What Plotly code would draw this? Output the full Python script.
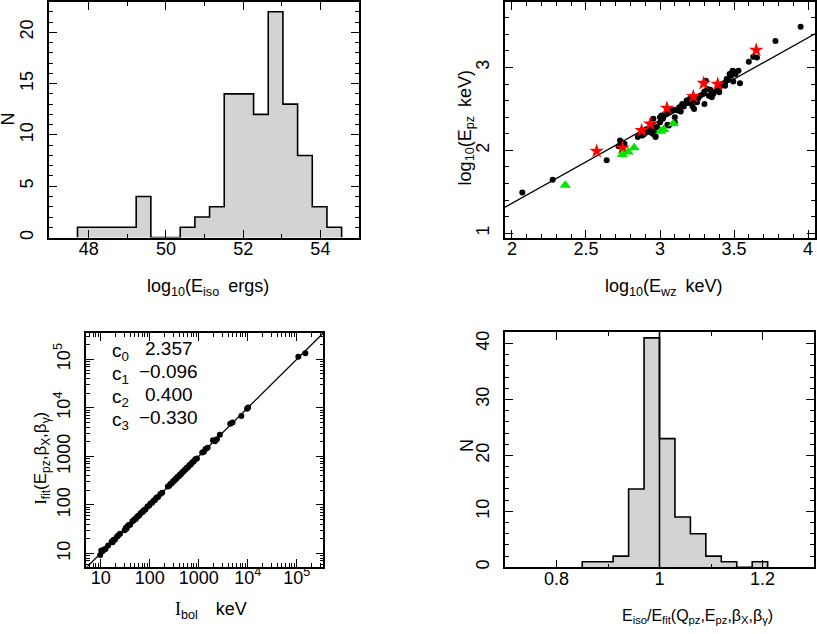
import plotly.graph_objects as go

# ---------------- data ----------------
# Panel A: histogram of log10(E_iso)
eiso_bin_edges = [47.71, 48.09, 48.47, 48.85, 49.23, 49.61, 49.99, 50.37, 50.75, 51.13,
                  51.51, 51.89, 52.27, 52.65, 53.03, 53.41, 53.79, 54.17, 54.55]
eiso_counts = [1, 1, 1, 1, 4, 0, 0, 1, 2, 3, 14, 14, 12, 22, 13, 8, 3, 1]

# Panel B: log10(E_pz) vs log10(E_wz)
ewz_black = [2.07, 2.275, 2.64, 2.72, 2.73, 2.74, 2.75, 2.76, 2.745,
             2.85, 2.87, 2.89, 2.90, 2.905, 2.91, 2.93, 2.95, 2.96, 2.97, 2.955, 2.95, 2.98, 3.00, 2.97,
             3.00, 3.01, 3.02, 3.03, 3.05, 3.06, 3.08, 3.10, 3.10, 3.10, 3.06,
             3.12, 3.13, 3.14, 3.15, 3.16, 3.19, 3.20, 3.21, 3.22, 3.23,
             3.24, 3.25, 3.27, 3.29, 3.30, 3.31, 3.30, 3.32, 3.33, 3.34,
             3.35, 3.355, 3.38, 3.40, 3.40, 3.41, 3.42, 3.44, 3.45, 3.46,
             3.47, 3.48, 3.49, 3.495, 3.50, 3.51, 3.53, 3.54, 3.60, 3.63,
             3.655, 3.78, 3.95,
             2.88, 2.92, 3.04, 3.18, 3.26, 3.36, 3.44]
epz_black = [1.49, 1.645, 1.88, 2.05, 2.12, 2.10, 2.06, 2.08, 2.04,
             2.16, 2.20, 2.19, 2.21, 2.25, 2.23, 2.22, 2.20, 2.22, 2.17, 2.38, 2.28, 2.28, 2.34, 2.16,
             2.40, 2.42, 2.38, 2.43, 2.31, 2.46, 2.48, 2.49, 2.40, 2.34, 2.30,
             2.48, 2.52, 2.47, 2.56, 2.53, 2.57, 2.62, 2.58, 2.53, 2.50,
             2.61, 2.58, 2.66, 2.68, 2.56, 2.84, 2.71, 2.74, 2.66, 2.73,
             2.64, 2.70, 2.72, 2.74, 2.70, 2.78, 2.80, 2.82, 2.86, 2.85,
             2.92, 2.90, 2.96, 2.83, 2.95, 2.92, 2.96, 2.81, 3.07, 3.13,
             3.12, 3.32, 3.49,
             2.18, 2.26, 2.44, 2.60, 2.63, 2.68, 2.78]
ewz_red = [2.572, 2.748, 2.876, 2.934, 3.047, 3.225, 3.295, 3.39, 3.65]
epz_red = [1.99, 2.03, 2.24, 2.32, 2.51, 2.65, 2.81, 2.80, 3.21]
ewz_green = [2.36, 2.746, 2.785, 2.825, 3.005, 3.025, 3.09]
epz_green = [1.58, 1.95, 1.98, 2.03, 2.23, 2.25, 2.32]
fit_slope = 1.0
fit_intercept = -0.64
ewz_tickvals = [2, 2.5, 3, 3.5, 4]
ewz_ticktext = ["2", "2.5", "3", "3.5", "4"]

# Panel C: I_fit vs I_bol
ibol = [9.8, 10.3, 11.0, 11.8, 12.5, 14.2, 16.8, 17.5, 18.4, 19.6,
        21.5, 23.0, 24.8, 31.0, 32.5, 33.8, 35.2, 37.5, 40.0, 44.5,
        47, 49.5, 52, 55, 58, 61, 65, 69, 73, 77,
        82, 90, 98, 104, 112, 120, 128, 137, 148, 165,
        180, 235, 250, 265, 282, 300, 318, 335, 352, 372,
        395, 415, 438, 462, 490, 515, 545, 575, 610, 650,
        690, 735, 790, 850, 920, 1180, 1280, 1380, 1520, 1950,
        2150, 2350, 2700, 4400, 4900, 7400, 9700, 10200, 108000, 150000]
ifit = [9.2, 11.5, 11.2, 12.0, 12.3, 14.6, 17.5, 17.0, 19.0, 19.2,
        22, 23.5, 25.5, 30, 33.5, 32.5, 36, 38.5, 39, 46,
        48, 50.5, 51, 56, 59, 60, 66, 70, 72, 78,
        80, 92, 97, 106, 110, 122, 126, 140, 146, 168,
        178, 238, 247, 270, 280, 305, 315, 340, 350, 378,
        390, 420, 432, 470, 485, 520, 540, 585, 600, 660,
        680, 745, 780, 870, 900, 1200, 1250, 1420, 1500, 2150,
        2050, 2250, 2800, 4700, 5000, 6800, 9600, 10100, 113000, 133000]
coef_names = ["c<sub>0</sub>", "c<sub>1</sub>", "c<sub>2</sub>", "c<sub>3</sub>"]
coef_values = [2.357, -0.096, 0.400, -0.330]
log_tickvals = [10, 100, 1000, 1e4, 1e5]
log_ticktext = ["10", "100", "1000", "10<sup>4</sup>", "10<sup>5</sup>"]

# Panel D: histogram of E_iso / E_fit
ratio_bin_edges = [0.85, 0.88, 0.91, 0.94, 0.97, 1.00, 1.03, 1.06, 1.09, 1.12, 1.15, 1.18, 1.21]
ratio_counts = [1, 1, 2, 14, 41, 23, 9, 6, 2, 1, 0, 1]
ratio_reference = 1.0

# ---------------- layout helpers ----------------
W, H = 817, 634
FONT = "Liberation Sans"
GRAY = "#d3d3d3"
TICK_SIZE = 18
SP = "\u2002"


def xdom(a, b):
    return [a / W, b / W]


def ydom(top, bottom):
    return [1 - bottom / H, 1 - top / H]


def axis(is_y=False, **kw):
    d = dict(showline=True, linecolor="black", linewidth=1.6, mirror="ticks",
             ticks="inside", ticklen=8, tickwidth=1.2, tickcolor="black",
             showgrid=False, zeroline=False, ticklabeloverflow="allow",
             ticklabelstandoff=(7 if is_y else -6),
             tickfont=dict(family=FONT, size=TICK_SIZE, color="black"))
    if is_y:
        d["tickangle"] = -90
    d.update(kw)
    return d


def minor(dtick=None, tickvals=None):
    m = dict(ticks="inside", ticklen=4, tickwidth=1.0, tickcolor="black", showgrid=False)
    if dtick is not None:
        m["dtick"] = dtick
    if tickvals is not None:
        m["tickvals"] = tickvals
    return m


def step_outline(edges, counts):
    xs = [edges[0]] + list(edges)
    ys = [0] + list(counts) + [0]
    return xs, ys


fig = go.Figure()

# Panel A
cent = [(eiso_bin_edges[i] + eiso_bin_edges[i + 1]) / 2 for i in range(len(eiso_counts))]
wid = [eiso_bin_edges[i + 1] - eiso_bin_edges[i] for i in range(len(eiso_counts))]
fig.add_trace(go.Bar(x=cent, y=eiso_counts, width=wid, marker=dict(color=GRAY, line=dict(width=0)),
                     xaxis="x", yaxis="y", showlegend=False))
sx, sy = step_outline(eiso_bin_edges, eiso_counts)
fig.add_trace(go.Scatter(x=sx, y=sy, mode="lines", line=dict(color="black", width=1.6, shape="hv"),
                         xaxis="x", yaxis="y", showlegend=False))

# Panel B
xr_b = [1.953, 4.047]
fig.add_trace(go.Scatter(x=xr_b, y=[fit_slope * v + fit_intercept for v in xr_b], mode="lines",
                         line=dict(color="black", width=1.3), xaxis="x2", yaxis="y2", showlegend=False))
fig.add_trace(go.Scatter(x=ewz_black, y=epz_black, mode="markers",
                         marker=dict(color="black", size=6), xaxis="x2", yaxis="y2", showlegend=False))
fig.add_trace(go.Scatter(x=ewz_red, y=epz_red, mode="markers",
                         marker=dict(color="red", size=11, symbol="star", line=dict(width=0)),
                         xaxis="x2", yaxis="y2", showlegend=False))
fig.add_trace(go.Scatter(x=ewz_green, y=epz_green, mode="markers",
                         marker=dict(color="#00e600", size=10, symbol="triangle-up", line=dict(width=0)),
                         xaxis="x2", yaxis="y2", showlegend=False))

# Panel C
lr_c = [0.694, 5.543]
lr_c_y = [0.727, 5.548]
diag = [10 ** lr_c[0], 10 ** lr_c[1]]
fig.add_trace(go.Scatter(x=diag, y=diag, mode="lines", line=dict(color="black", width=1.3),
                         xaxis="x3", yaxis="y3", showlegend=False))
fig.add_trace(go.Scatter(x=ibol, y=ifit, mode="markers", marker=dict(color="black", size=6),
                         xaxis="x3", yaxis="y3", showlegend=False))

# Panel D
cent4 = [(ratio_bin_edges[i] + ratio_bin_edges[i + 1]) / 2 for i in range(len(ratio_counts))]
wid4 = [ratio_bin_edges[i + 1] - ratio_bin_edges[i] for i in range(len(ratio_counts))]
fig.add_trace(go.Bar(x=cent4, y=ratio_counts, width=wid4, marker=dict(color=GRAY, line=dict(width=0)),
                     xaxis="x4", yaxis="y4", showlegend=False))
sx4, sy4 = step_outline(ratio_bin_edges, ratio_counts)
fig.add_trace(go.Scatter(x=sx4, y=sy4, mode="lines", line=dict(color="black", width=1.6, shape="hv"),
                         xaxis="x4", yaxis="y4", showlegend=False))
yr_d = [0, 42.1]
fig.add_trace(go.Scatter(x=[ratio_reference, ratio_reference], y=yr_d, mode="lines",
                         line=dict(color="black", width=1.6), xaxis="x4", yaxis="y4", showlegend=False))

log_minor = [m * 10 ** k for k in range(0, 6) for m in range(2, 10)]

fig.update_layout(
    width=W, height=H, margin=dict(l=0, r=0, t=0, b=0),
    paper_bgcolor="white", plot_bgcolor="white", bargap=0,
    font=dict(family=FONT, size=17, color="black"),
    xaxis=axis(domain=xdom(49.3, 359), range=[46.98, 55.0], dtick=2, tick0=0,
               minor=minor(dtick=1), anchor="y"),
    yaxis=axis(True, domain=ydom(1, 237.7), range=[0, 22.95], dtick=5, tick0=0,
               minor=minor(dtick=1), anchor="x"),
    xaxis2=axis(domain=xdom(505, 815), range=xr_b, tickmode="array", tickvals=ewz_tickvals,
                ticktext=ewz_ticktext, minor=minor(dtick=0.1), anchor="y2"),
    yaxis2=axis(True, domain=ydom(1, 237.7), range=[0.947, 3.79], dtick=1, tick0=0,
                minor=minor(dtick=0.2), anchor="x2"),
    xaxis3=axis(domain=xdom(85.7, 323.3), type="log", range=lr_c, tickmode="array",
                tickvals=log_tickvals, ticktext=log_ticktext, minor=minor(tickvals=log_minor), anchor="y3"),
    yaxis3=axis(True, domain=ydom(333.3, 568.3), type="log", range=lr_c_y, tickmode="array",
                tickvals=log_tickvals, ticktext=log_ticktext,
                minor=minor(tickvals=log_minor), anchor="x3"),
    xaxis4=axis(domain=xdom(505, 814), range=[0.70, 1.30], dtick=0.2, tick0=0,
                minor=minor(dtick=0.1), anchor="y4"),
    yaxis4=axis(True, domain=ydom(332.3, 569), range=yr_d, dtick=10, tick0=0,
                minor=minor(dtick=2), anchor="x4"),
)

ann = []


def title(text, x, y, angle=0, size=18):
    ann.append(dict(text=text, x=x / W, y=1 - y / H, xref="paper", yref="paper", showarrow=False,
                    xanchor="center", yanchor="middle", textangle=angle,
                    font=dict(family=FONT, size=size, color="black")))


SERIF_I = '<span style="font-family:Liberation Serif">I</span>'
title("log<sub>10</sub>(E<sub>iso</sub>" + SP + "ergs)", 208, 288)
title("N", 8, 118, -90)
title("log<sub>10</sub>(E<sub>wz</sub>" + SP + "keV)", 663, 288)
title("log<sub>10</sub>(E<sub>pz</sub>" + SP + "keV)", 466, 128, -90)
title(SERIF_I + "<sub>bol</sub>" + SP + SP + "keV", 211, 612)
title(SERIF_I + "<sub>fit</sub>(E<sub>pz</sub>,β<sub>X</sub>,β<sub>γ</sub>)", 42, 460, -90, 17)
title("E<sub>iso</sub>/E<sub>fit</sub>(Q<sub>pz</sub>,E<sub>pz</sub>,β<sub>X</sub>,β<sub>γ</sub>)",
      697, 618, 0, 16)
title("N", 467, 447, -90)

rows_y = [353, 376, 399, 422]
for name, val, yy in zip(coef_names, coef_values, rows_y):
    ann.append(dict(text=name, x=110 / W, y=1 - yy / H, xref="paper", yref="paper", showarrow=False,
                    xanchor="left", yanchor="middle", font=dict(family=FONT, size=19, color="black")))
    txt = ("%.3f" % val).replace("-", "\u2212")
    xx = 137 if val < 0 else 143
    ann.append(dict(text=txt, x=xx / W, y=1 - (yy - 4) / H, xref="paper", yref="paper", showarrow=False,
                    xanchor="left", yanchor="middle", font=dict(family=FONT, size=19, color="black")))

fig.update_layout(annotations=ann)
fig.write_html("out.html", config={"displayModeBar": False},
               post_script="document.body.style.margin='0';document.body.style.overflow='hidden';")
